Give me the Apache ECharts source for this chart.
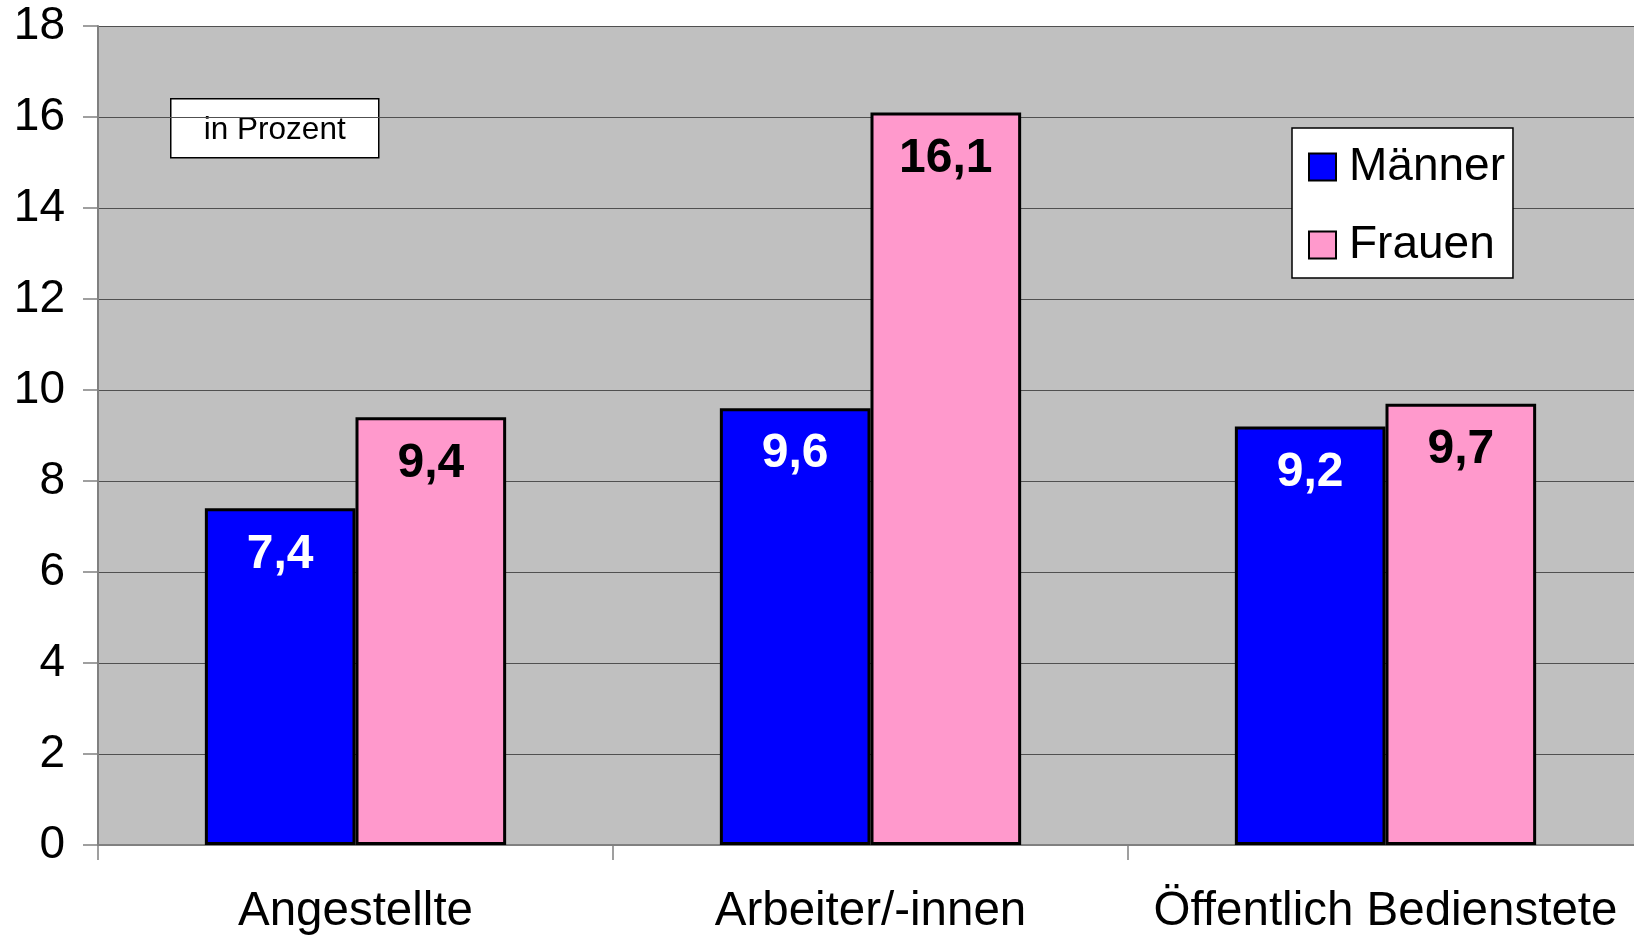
<!DOCTYPE html>
<html>
<head>
<meta charset="utf-8">
<script src="https://cdn.jsdelivr.net/npm/echarts@6/dist/echarts.min.js"></script>
<style>
html,body{margin:0;padding:0;background:#fff;}
#c{width:1634px;height:936px;}
</style>
</head>
<body>
<div id="c"></div>
<script>
const categories = ['Angestellte', 'Arbeiter/-innen', 'Öffentlich Bedienstete'];
const maenner = [7.4, 9.6, 9.2];
const frauen = [9.4, 16.1, 9.7];
const seriesNames = ['Männer', 'Frauen'];
const yTicks = { min: 0, max: 18, interval: 2 };

const fmt = p => String(p.value).replace('.', ',');
const chart = echarts.init(document.getElementById('c'));
chart.setOption({
  animation: false,
  backgroundColor: '#ffffff',
  textStyle: { fontFamily: 'Liberation Sans, Arial, sans-serif' },
  grid: {
    left: 98, width: 1545, top: 26, bottom: 91,
    containLabel: false, outerBoundsMode: 'none',
    show: true, backgroundColor: '#c0c0c0', borderWidth: 0
  },
  legend: {
    orient: 'vertical',
    left: 1292, top: 128,
    backgroundColor: '#ffffff',
    borderColor: '#000000', borderWidth: 1.5,
    padding: [16, 8, 10, 16],
    itemWidth: 27, itemHeight: 27, itemGap: 32,
    icon: 'rect',
    textStyle: { fontSize: 46, lineHeight: 44, color: '#000', padding: [0, 0, 0, 8], fontFamily: 'Liberation Sans, Arial, sans-serif' },
    data: seriesNames
  },
  xAxis: {
    type: 'category',
    data: categories,
    axisLine: { lineStyle: { color: '#808080', width: 2 } },
    axisTick: { show: true, length: 15, lineStyle: { color: '#808080', width: 1.5 } },
    axisLabel: { fontSize: 47.5, color: '#000', margin: 43, interval: 0 },
    splitLine: { show: false }
  },
  yAxis: {
    type: 'value',
    min: yTicks.min, max: yTicks.max, interval: yTicks.interval,
    axisLine: { show: true, lineStyle: { color: '#808080', width: 2 } },
    axisTick: { show: true, length: 15, inside: false, lineStyle: { color: '#808080', width: 1.5 } },
    axisLabel: { fontSize: 46, color: '#000', margin: 33 },
    splitLine: { show: true, lineStyle: { color: '#505050', width: 1.2 } }
  },
  graphic: [{
    type: 'group', left: 170, top: 98,
    children: [
      { type: 'rect', shape: { x: 0, y: 0, width: 208, height: 59 }, style: { fill: '#fff', stroke: '#000', lineWidth: 1.5 } },
      { type: 'text', x: 104, y: 32, style: { text: 'in Prozent', fontSize: 31.5, fill: '#000', align: 'center', verticalAlign: 'middle', fontFamily: 'Liberation Sans, Arial, sans-serif' } }
    ]
  }],
  series: [
    {
      name: seriesNames[0], type: 'bar', data: maenner,
      barGap: '0%', barCategoryGap: '41.5%',
      itemStyle: { color: '#0000ff', borderColor: '#000', borderWidth: 3 },
      label: { show: true, position: 'insideTop', distance: 22, formatter: fmt, fontSize: 48, fontWeight: 'bold', color: '#fff' }
    },
    {
      name: seriesNames[1], type: 'bar', data: frauen,
      barGap: '0%', barCategoryGap: '41.5%',
      itemStyle: { color: '#ff99cc', borderColor: '#000', borderWidth: 3 },
      label: { show: true, position: 'insideTop', distance: 22, formatter: fmt, fontSize: 48, fontWeight: 'bold', color: '#000' }
    }
  ]
});
</script>
</body>
</html>
